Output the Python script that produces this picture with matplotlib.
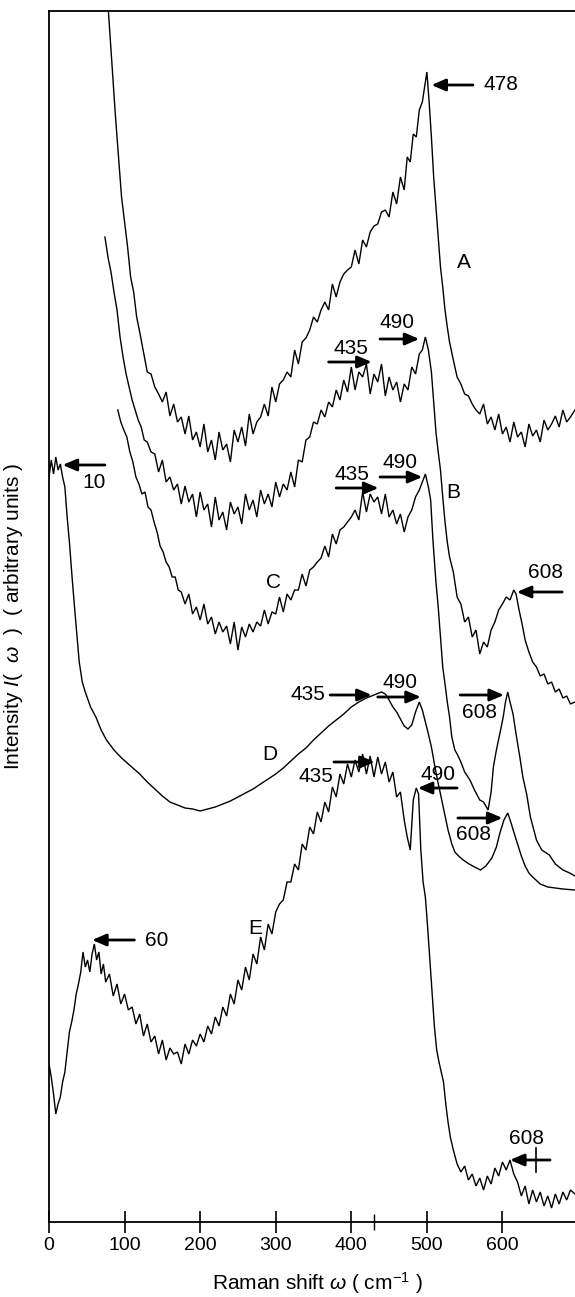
import matplotlib
matplotlib.use("Agg")
import matplotlib.pyplot as plt

plt.rcParams['font.family'] = ['Liberation Sans', 'DejaVu Sans']
plt.rcParams['mathtext.fontset'] = 'custom'
plt.rcParams['mathtext.rm'] = 'Liberation Sans'
plt.rcParams['mathtext.it'] = 'Liberation Sans:italic'

# ---- spectra: Raman shift (cm^-1) and intensity (arbitrary units) ----
a_shift = [76, 80, 84, 88, 92, 96, 100, 104, 108, 112, 116, 120, 125, 130, 135, 140, 145, 150,
           155, 160, 165, 170, 175, 180, 185, 190, 195, 200, 205, 210, 215, 220, 225, 230, 235,
           240, 245, 250, 255, 260, 265, 270, 275, 280, 285, 290, 295, 300, 305, 310, 315, 320,
           325, 330, 335, 340, 345, 350, 355, 360, 365, 370, 375, 380, 385, 390, 395, 400, 405,
           410, 415, 420, 425, 430, 435, 440, 445, 450, 455, 460, 465, 470, 474, 478, 482, 486,
           490, 494, 497, 500, 503, 506, 509, 512, 515, 518, 521, 524, 527, 530, 535, 540, 545,
           550, 555, 560, 565, 570, 575, 580, 585, 590, 595, 600, 605, 610, 615, 620, 625, 630,
           635, 640, 645, 650, 655, 660, 665, 670, 675, 680, 685, 690, 696]
a_int = [1240, 1195, 1150, 1105, 1065, 1025, 1000, 975, 945, 930, 905, 890, 870, 850, 848, 835,
         828, 820, 830, 806, 818, 800, 805, 788, 806, 782, 790, 775, 798, 770, 782, 762, 790, 772,
         778, 760, 792, 780, 795, 776, 808, 788, 800, 805, 818, 806, 835, 820, 838, 842, 850, 845,
         872, 858, 880, 884, 892, 905, 900, 912, 920, 912, 938, 925, 940, 948, 952, 955, 972, 958,
         982, 975, 990, 996, 998, 1010, 1012, 1005, 1030, 1018, 1045, 1032, 1065, 1060, 1088, 1085,
         1112, 1120, 1135, 1150, 1120, 1085, 1045, 1015, 985, 955, 935, 912, 895, 880, 862, 845,
         838, 828, 826, 818, 812, 808, 818, 798, 805, 792, 808, 788, 795, 780, 800, 785, 790, 775,
         798, 786, 792, 780, 802, 792, 798, 806, 795, 812, 800, 805, 812]

b_shift = [74, 78, 82, 86, 90, 94, 98, 102, 106, 110, 114, 118, 122, 126, 130, 135, 140, 145, 150,
           155, 160, 165, 170, 175, 180, 185, 190, 195, 200, 205, 210, 215, 220, 225, 230, 235,
           240, 245, 250, 255, 260, 265, 270, 275, 280, 285, 290, 295, 300, 305, 310, 315, 320,
           325, 330, 335, 340, 345, 350, 355, 360, 365, 370, 375, 380, 385, 390, 395, 400, 405,
           410, 415, 420, 425, 430, 435, 440, 445, 450, 455, 460, 465, 470, 475, 480, 485, 490,
           494, 498, 502, 506, 509, 512, 515, 518, 521, 524, 527, 530, 535, 540, 545, 550, 555,
           560, 565, 570, 575, 580, 585, 590, 595, 600, 605, 610, 615, 618, 622, 626, 630, 635,
           640, 645, 650, 655, 660, 665, 670, 675, 680, 685, 690, 696]
b_int = [985, 965, 950, 930, 912, 885, 865, 848, 835, 822, 812, 802, 795, 782, 780, 770, 768, 750,
         762, 740, 745, 732, 738, 718, 736, 720, 728, 705, 730, 712, 718, 695, 725, 702, 710, 692,
         720, 708, 715, 698, 728, 712, 722, 705, 732, 718, 728, 715, 740, 725, 738, 732, 750, 735,
         762, 760, 782, 785, 800, 798, 812, 805, 820, 815, 832, 822, 842, 830, 855, 832, 850, 845,
         858, 828, 848, 840, 858, 826, 845, 832, 840, 820, 838, 832, 855, 848, 868, 872, 885, 872,
         850, 820, 790, 770, 752, 725, 700, 680, 665, 650, 625, 618, 600, 605, 585, 592, 568, 580,
         575, 592, 600, 612, 618, 625, 622, 632, 628, 612, 598, 582, 570, 560, 555, 546, 548, 538,
         540, 530, 533, 524, 526, 518, 520]

c_shift = [91, 95, 99, 103, 107, 111, 115, 119, 123, 127, 131, 135, 139, 143, 147, 151, 155, 159,
           163, 167, 171, 175, 180, 185, 190, 195, 200, 205, 210, 215, 220, 225, 230, 235, 240,
           245, 250, 255, 260, 265, 270, 275, 280, 285, 290, 295, 300, 305, 310, 315, 320, 325,
           330, 335, 340, 345, 350, 355, 360, 365, 370, 375, 380, 385, 390, 395, 400, 405, 410,
           415, 420, 425, 430, 435, 440, 445, 450, 455, 460, 465, 470, 475, 480, 485, 490, 494,
           498, 502, 505, 508, 512, 515, 518, 521, 524, 527, 530, 533, 537, 540, 545, 550, 557,
           563, 570, 575, 581, 585, 588, 592, 597, 601, 604, 607, 610, 614, 618, 623, 627, 632,
           637, 645, 652, 662, 670, 680, 689, 696]
c_int = [812, 800, 792, 785, 770, 760, 745, 738, 728, 730, 715, 712, 700, 690, 676, 670, 660, 655,
         645, 645, 632, 630, 618, 628, 608, 615, 602, 618, 598, 605, 588, 600, 590, 596, 578, 600,
         572, 595, 585, 598, 590, 600, 596, 612, 598, 610, 608, 625, 610, 628, 622, 632, 632, 648,
         636, 652, 655, 660, 664, 676, 665, 688, 678, 692, 695, 700, 705, 712, 702, 730, 710, 728,
         720, 725, 708, 728, 705, 712, 698, 708, 690, 705, 712, 725, 732, 740, 748, 735, 722, 682,
         640, 615, 585, 555, 538, 520, 505, 485, 472, 468, 460, 450, 442, 432, 422, 420, 412, 430,
         455, 472, 490, 505, 520, 530, 520, 508, 488, 465, 445, 428, 405, 382, 372, 367, 358, 352,
         349, 346]

d_shift = [0, 3, 6, 9, 12, 15, 18, 21, 24, 27, 30, 33, 36, 40, 44, 48, 55, 62, 69, 76, 86, 96, 108,
           120, 130, 140, 150, 160, 170, 180, 190, 200, 210, 220, 230, 240, 250, 260, 270, 280,
           290, 300, 310, 320, 330, 340, 350, 360, 370, 380, 390, 400, 410, 420, 430, 440, 445,
           450, 455, 460, 465, 470, 475, 480, 485, 490, 494, 498, 502, 506, 510, 514, 518, 523,
           528, 533, 537, 542, 548, 556, 563, 571, 578, 586, 592, 597, 602, 607, 611, 615, 620,
           625, 630, 635, 640, 650, 660, 670, 680, 696]
d_int = [745, 762, 748, 765, 752, 758, 745, 735, 705, 680, 650, 622, 595, 560, 540, 530, 515, 505,
         492, 482, 472, 464, 456, 448, 440, 433, 426, 420, 417, 414, 413, 411, 413, 415, 418, 421,
         425, 429, 433, 438, 443, 448, 454, 461, 468, 474, 482, 489, 496, 502, 508, 515, 520, 524,
         527, 530, 528, 522, 515, 510, 503, 496, 493, 497, 510, 520, 512, 500, 488, 475, 458, 442,
         428, 410, 392, 378, 370, 366, 362, 358, 355, 352, 356, 364, 375, 390, 402, 409, 400, 390,
         378, 366, 356, 349, 345, 338, 335, 334, 333, 332]

e_shift = [0, 3, 6, 9, 12, 15, 18, 21, 24, 27, 30, 33, 36, 39, 42, 45, 48, 51, 54, 57, 60, 63, 66,
           69, 72, 75, 80, 85, 90, 95, 100, 105, 110, 115, 120, 125, 130, 135, 140, 145, 150, 155,
           160, 165, 170, 175, 180, 185, 190, 195, 200, 205, 210, 215, 220, 225, 230, 235, 240,
           245, 250, 255, 260, 265, 270, 275, 280, 285, 290, 295, 300, 305, 310, 315, 320, 325,
           330, 335, 340, 345, 350, 355, 360, 365, 370, 375, 380, 385, 390, 395, 400, 405, 410,
           415, 420, 425, 430, 435, 440, 445, 450, 455, 460, 465, 470, 474, 478, 482, 486, 489,
           492, 495, 498, 501, 504, 507, 510, 513, 516, 519, 522, 525, 528, 531, 535, 540, 545,
           550, 555, 560, 565, 570, 575, 580, 585, 590, 595, 600, 605, 610, 615, 620, 625, 630,
           635, 640, 645, 650, 655, 660, 665, 670, 675, 680, 685, 690, 696]
e_int = [158, 145, 128, 108, 118, 125, 140, 150, 170, 190, 200, 212, 228, 238, 250, 270, 255, 262,
         250, 268, 278, 262, 270, 248, 258, 240, 248, 226, 238, 218, 228, 212, 215, 198, 208, 186,
         198, 180, 186, 168, 182, 162, 174, 168, 170, 158, 178, 168, 182, 176, 188, 180, 196, 188,
         205, 196, 215, 206, 228, 218, 242, 232, 255, 242, 268, 258, 285, 272, 298, 288, 310, 318,
         322, 340, 340, 358, 352, 378, 372, 395, 388, 410, 400, 420, 410, 435, 425, 448, 438, 458,
         445, 462, 450, 468, 448, 466, 445, 465, 448, 460, 440, 450, 425, 430, 402, 385, 372, 422,
         434, 428, 372, 340, 325, 295, 262, 230, 195, 172, 160, 150, 140, 118, 100, 85, 72, 58,
         50, 56, 42, 48, 36, 44, 32, 46, 38, 54, 46, 60, 52, 62, 48, 40, 26, 36, 18, 32, 20, 30,
         16, 26, 14, 28, 18, 30, 22, 32, 28]

# curve letters: (label, shift, intensity)
curve_labels = [("A", 549, 960), ("B", 535, 729), ("C", 297, 640),
                ("D", 292, 467), ("E", 273, 294)]

# peak markers: (text, text_x, text_y, ha, arrow tail x, arrow head x, arrow y)
peak_marks = [
    ("478", 575, 1137, "left", 561, 506, 1137),
    ("435", 399, 874, "center", 370, 427, 860),
    ("490", 460, 899, "center", 438, 490, 883),
    ("435", 401, 747, "center", 380, 436, 734),
    ("490", 464, 760, "center", 438, 494, 745),
    ("608", 657, 649, "center", 679, 619, 630),
    ("10", 60, 740, "center", 74, 18, 757),
    ("435", 343, 527, "center", 372, 427, 527),
    ("490", 464, 539, "center", 435, 492, 525),
    ("608", 570, 509, "center", 544, 602, 527),
    ("435", 353, 445, "center", 377, 431, 460),
    ("490", 515, 447, "center", 540, 488, 434),
    ("608", 562, 387, "center", 541, 600, 404),
    ("60", 142, 282, "center", 113, 57, 282),
    ("608", 632, 84, "center", 663, 610, 62),
]

x_ticks = [0, 100, 200, 300, 400, 500, 600]

fig = plt.figure(figsize=(5.75, 12.97), dpi=100)
ax = fig.add_axes([49 / 575, 75 / 1297, 1 - 49 / 575, (1222 - 11) / 1297])

for xs, ys in [(a_shift, a_int), (b_shift, b_int), (c_shift, c_int),
               (d_shift, d_int), (e_shift, e_int)]:
    ax.plot(xs, ys, color="black", lw=1.0, solid_joinstyle="miter")

for name, x, y in curve_labels:
    ax.text(x, y, name, fontsize=15, ha="center", va="center")

for txt, tx, ty, ha, x0, x1, y in peak_marks:
    ax.text(tx, ty, txt, fontsize=15, ha=ha, va="center")
    ax.annotate("", xy=(x1, y), xytext=(x0, y),
                arrowprops=dict(arrowstyle="-|>,head_length=0.7,head_width=0.3",
                                color="black", lw=2.0, shrinkA=0, shrinkB=0,
                                mutation_scale=12))
# small cross-mark on the last marker arrow
ax.plot([644, 644], [50, 74], color="black", lw=1.2)

ax.set_xlim(0, 696)
ax.set_ylim(0, 1211)
ax.set_xticks(x_ticks)
ax.set_xticks([430], minor=True)
ax.set_yticks([])
ax.tick_params(axis="x", which="major", direction="inout", length=16, width=1.2,
               labelsize=14, pad=3)
ax.tick_params(axis="x", which="minor", direction="inout", length=11, width=1.0)
ax.spines["right"].set_visible(False)
for s in ["left", "top", "bottom"]:
    ax.spines[s].set_linewidth(1.3)

ax.set_xlabel(r"Raman shift $\omega$ ( cm$^{-1}$ )", fontsize=15)
ax.xaxis.set_label_coords(0.51, -0.040)
ax.set_ylabel(r"Intensity $I$(  $\omega$  )  ( arbitrary units )", fontsize=15)
ax.yaxis.set_label_coords(-0.045, 0.5)

fig.savefig("out.png", dpi=100)
